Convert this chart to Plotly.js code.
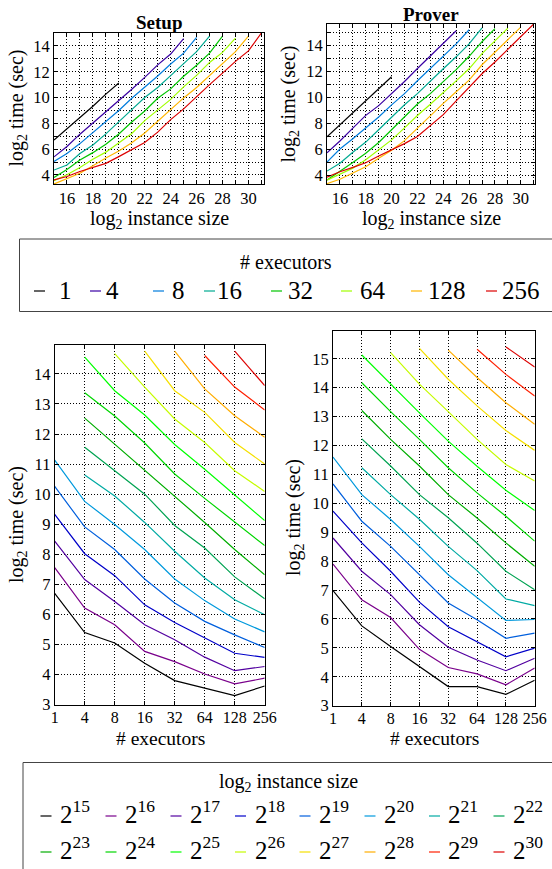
<!DOCTYPE html>
<html><head><meta charset="utf-8">
<script src="https://cdn.plot.ly/plotly-3.0.1.min.js"></script>
<style>html,body{margin:0;padding:0;background:#fff}#chart{width:552px;height:869px}</style>
</head><body><div id="chart"></div>
<script>
// ---------------- data ----------------
const executors = ['1', '4', '8', '16', '32', '64', '128', '256'];
const instanceSizes = [15, 16, 17, 18, 19, 20, 21, 22, 23, 24, 25, 26, 27, 28, 29, 30, 31];
const legendSizes = [15, 16, 17, 18, 19, 20, 21, 22, 23, 24, 25, 26, 27, 28, 29, 30];

// log2 setup time (sec), one array per executor count, starting at instance size 2^15
const setup_e1   = [6.70, 7.56, 8.44, 9.33, 10.26, 11.13];
const setup_e4   = [5.40, 6.21, 7.16, 8.02, 8.91, 9.76, 10.64, 11.56, 12.53, 13.37, 14.56];
const setup_e8   = [5.05, 5.66, 6.43, 7.29, 8.16, 8.99, 9.94, 10.78, 11.67, 12.60, 13.44, 14.67];
const setup_e16  = [4.38, 4.77, 5.66, 6.32, 7.18, 8.16, 9.06, 10.00, 10.78, 11.70, 12.63, 13.56, 14.76];
const setup_e32  = [3.80, 4.43, 5.16, 5.73, 6.38, 7.18, 8.10, 8.96, 9.94, 10.67, 11.65, 12.50, 13.44, 14.76];
const setup_e64  = [3.55, 4.02, 4.58, 5.21, 5.77, 6.46, 7.21, 8.21, 9.06, 9.86, 10.83, 11.72, 12.72, 13.50, 14.61];
const setup_e128 = [3.30, 3.69, 4.13, 4.71, 5.32, 5.85, 6.49, 7.25, 8.16, 9.06, 9.97, 10.78, 11.72, 12.61, 13.56, 14.76];
const setup_e256 = [3.62, 3.88, 4.27, 4.57, 4.90, 5.42, 5.99, 6.52, 7.32, 8.29, 9.12, 10.09, 11.00, 11.89, 12.80, 13.61, 15.00];

// log2 prover time (sec)
const prover_e1   = [6.98, 7.90, 8.80, 9.73, 10.67, 11.60];
const prover_e4   = [5.76, 6.66, 7.65, 8.63, 9.38, 10.30, 11.23, 12.23, 13.21, 14.17, 15.13];
const prover_e8   = [5.05, 6.05, 6.84, 7.65, 8.51, 9.44, 10.30, 11.29, 12.21, 13.17, 14.12, 15.21];
const prover_e16  = [4.35, 4.95, 5.80, 6.58, 7.53, 8.51, 9.45, 10.30, 11.29, 12.21, 13.13, 14.12, 15.36];
const prover_e32  = [3.66, 4.32, 5.02, 5.73, 6.55, 7.53, 8.51, 9.50, 10.30, 11.23, 12.15, 13.17, 14.29, 15.30];
const prover_e64  = [3.66, 4.10, 4.58, 5.22, 5.97, 6.75, 7.67, 8.62, 9.49, 10.36, 11.28, 12.21, 13.37, 14.35, 15.33];
const prover_e128 = [3.39, 3.72, 4.21, 4.69, 5.33, 5.95, 6.69, 7.65, 8.63, 9.55, 10.45, 11.34, 12.52, 13.48, 14.46, 15.41];
const prover_e256 = [3.88, 4.30, 4.64, 4.99, 5.51, 5.98, 6.46, 7.01, 7.82, 8.69, 9.75, 10.77, 11.83, 12.73, 13.71, 14.71, 15.65];

const execColors = ['#000000', '#3a00a3', '#007cdd', '#00aa92', '#00c500', '#a0ff00', '#ffb600', '#dd0000'];
const sizeColors = ['#000000', '#7a008b', '#5200a0', '#0000c9', '#005fdd', '#0099dd', '#00aaa3', '#00a352',
                    '#00ad00', '#00d600', '#00ff00', '#c5fc00', '#f5e000', '#ffad00', '#ff1f00', '#dd0000'];

// ---------------- build ----------------
const setupSeries  = [setup_e1, setup_e4, setup_e8, setup_e16, setup_e32, setup_e64, setup_e128, setup_e256];
const proverSeries = [prover_e1, prover_e4, prover_e8, prover_e16, prover_e32, prover_e64, prover_e128, prover_e256];

const FONT = '"Liberation Serif", "Times New Roman", Times, serif';
const W = 552, H = 869;
const fx = p => p / W, fy = p => 1 - p / H;

function topTraces(series, xa, ya) {
  return series.map((vals, i) => ({
    type: 'scatter', mode: 'lines', xaxis: xa, yaxis: ya,
    x: instanceSizes.slice(0, vals.length), y: vals,
    name: executors[i] + ' executors', showlegend: false,
    line: {color: execColors[i], width: 1.2}
  }));
}
function bottomTraces(series, xa, ya) {
  return legendSizes.map((s, j) => ({
    type: 'scatter', mode: 'lines', xaxis: xa, yaxis: ya,
    x: executors, y: series.map(vals => (j < vals.length ? vals[j] : null)),
    name: '2^' + s, showlegend: false,
    line: {color: sizeColors[j], width: 1.2}
  }));
}

const traces = [].concat(
  topTraces(setupSeries, 'x', 'y'),
  topTraces(proverSeries, 'x2', 'y2'),
  bottomTraces(setupSeries, 'x3', 'y3'),
  bottomTraces(proverSeries, 'x4', 'y4')
);

const DOT = '1px,2px';
const base = {
  showline: true, linecolor: '#000', linewidth: 1, mirror: 'allticks',
  ticks: 'inside', ticklen: 4, tickwidth: 1, tickcolor: '#000',
  showgrid: true, gridcolor: '#000', gridwidth: 1, griddash: DOT,
  zeroline: false, tickfont: {family: FONT, size: 16.5, color: '#000'}, fixedrange: true
};
const minor1 = {dtick: 1, showgrid: true, gridcolor: '#000', gridwidth: 1, griddash: DOT, ticks: 'inside', ticklen: 3, tickcolor: '#000'};

function txt(text, x, y, size, extra) {
  return Object.assign({text: text, x: fx(x), y: fy(y), xref: 'paper', yref: 'paper', showarrow: false,
    xanchor: 'center', yanchor: 'middle', borderpad: 0, font: {family: FONT, size: size, color: '#000'}}, extra || {});
}

const annotations = [
  txt('<b>Setup</b>', 159, 22, 19),
  txt('<b>Prover</b>', 431, 14, 19),
  txt('log<sub>2</sub> time (sec)', 17, 108.5, 20, {textangle: -90}),
  txt('log<sub>2</sub> time (sec)', 288.5, 104, 20, {textangle: -90}),
  txt('log<sub>2</sub> instance size', 159, 219, 20),
  txt('log<sub>2</sub> instance size', 431, 219, 20),
  txt('log<sub>2</sub> time (sec)', 17, 525, 20, {textangle: -90}),
  txt('log<sub>2</sub> time (sec)', 294, 518, 20, {textangle: -90}),
  txt('# executors', 160, 738.5, 19.5),
  txt('# executors', 434, 738.5, 19.5),
  txt('# executors', 286, 261.5, 20),
  txt('log<sub>2</sub> instance size', 288, 782, 20)
];
const shapes = [
  {type: 'rect', xref: 'paper', yref: 'paper', x0: fx(19.5), x1: fx(553), y0: fy(311.5), y1: fy(239), line: {color: '#444', width: 1}},
  {type: 'rect', xref: 'paper', yref: 'paper', x0: fx(23), x1: fx(553), y0: fy(885), y1: fy(762.5), line: {color: '#444', width: 1}}
];

// legend 1: executors
const leg1Dash = [34, 90, 153, 204, 271, 341, 411, 486];
const leg1Text = [58, 105, 171, 216, 286.5, 358.5, 427, 501];
executors.forEach((e, i) => {
  shapes.push({type: 'line', xref: 'paper', yref: 'paper', x0: fx(leg1Dash[i]), x1: fx(leg1Dash[i] + 11),
    y0: fy(291), y1: fy(291), line: {color: execColors[i], width: 1.2}});
  annotations.push(txt(e, leg1Text[i], 291, 25, {xanchor: 'left'}));
});
// legend 2: instance sizes
const leg2Dash = [40.5, 105.5, 170.5, 235, 299.5, 364.5, 429, 493.5];
const leg2Text = [59, 124, 189, 253.5, 318, 383, 447, 512];
const leg2Rows = [816, 852];
legendSizes.forEach((s, j) => {
  const c = j % 8, r = Math.floor(j / 8);
  shapes.push({type: 'line', xref: 'paper', yref: 'paper', x0: fx(leg2Dash[c]), x1: fx(leg2Dash[c] + 11),
    y0: fy(leg2Rows[r]), y1: fy(leg2Rows[r]), line: {color: sizeColors[j], width: 1.2}});
  annotations.push(txt('2<sup>' + s + '</sup>', leg2Text[c], leg2Rows[r] - 4, 25, {xanchor: 'left'}));
});

const layout = {
  width: W, height: H, margin: {l: 0, r: 0, t: 0, b: 0},
  paper_bgcolor: '#fff', plot_bgcolor: '#fff', showlegend: false,
  font: {family: FONT, color: '#000'},
  xaxis:  Object.assign({}, base, {domain: [fx(54), fx(264)], range: [15, 31.2], tick0: 0, dtick: 2, minor: minor1, anchor: 'y', ticklabelstandoff: -1}),
  yaxis:  Object.assign({}, base, {domain: [fy(184), fy(33)], range: [3.3, 15], tick0: 0, dtick: 2, minor: minor1, anchor: 'x'}),
  xaxis2: Object.assign({}, base, {domain: [fx(327), fx(535)], range: [15, 31.1], tick0: 0, dtick: 2, minor: minor1, anchor: 'y2', ticklabelstandoff: -1}),
  yaxis2: Object.assign({}, base, {domain: [fy(184), fy(24)], range: [3.36, 15.65], tick0: 0, dtick: 2, minor: minor1, anchor: 'x2'}),
  xaxis3: Object.assign({}, base, {type: 'category', categoryorder: 'array', categoryarray: executors,
            domain: [fx(54.7), fx(264.7)], range: [0, 7], anchor: 'y3', ticklabelstandoff: -2, tickfont: {family: FONT, size: 16, color: '#000'}}),
  yaxis3: Object.assign({}, base, {domain: [fy(704.7), fy(344.7)], range: [2.999, 14.97], tick0: 0, dtick: 1, anchor: 'x3'}),
  xaxis4: Object.assign({}, base, {type: 'category', categoryorder: 'array', categoryarray: executors,
            domain: [fx(333), fx(534.7)], range: [0, 7], anchor: 'y4', ticklabelstandoff: -2, tickfont: {family: FONT, size: 16, color: '#000'}}),
  yaxis4: Object.assign({}, base, {domain: [fy(705.7), fy(330.7)], range: [2.999, 15.97], tick0: 0, dtick: 1, anchor: 'x4'}),
  annotations: annotations, shapes: shapes
};

Plotly.newPlot('chart', traces, layout, {staticPlot: true, displayModeBar: false});
</script></body></html>
